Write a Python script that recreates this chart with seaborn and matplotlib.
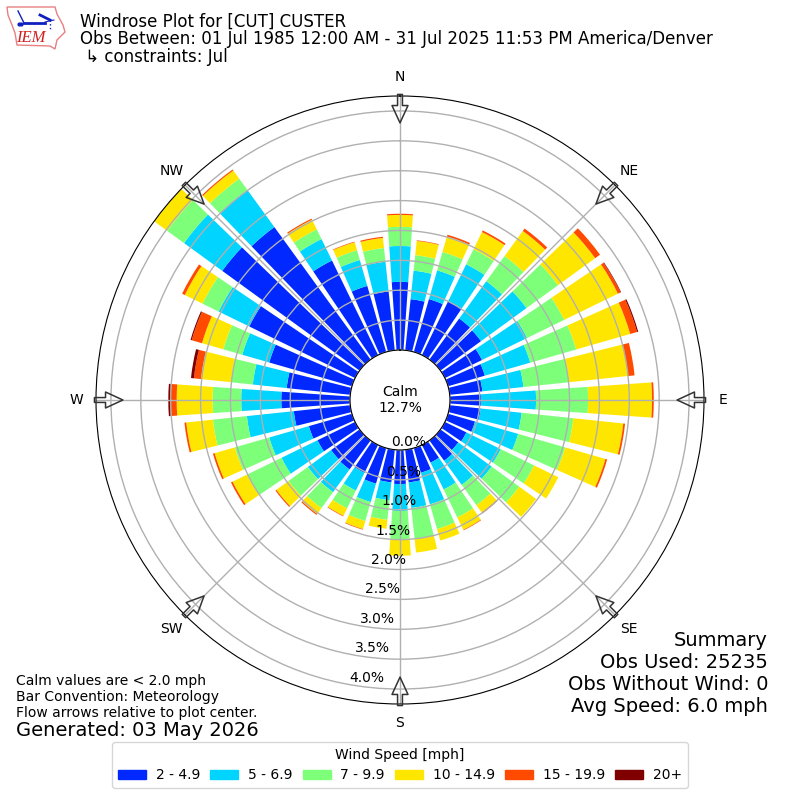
import numpy as np
import pandas as pd
import matplotlib
matplotlib.use("Agg")
import matplotlib.pyplot as plt
from matplotlib.patches import Patch, Polygon
import seaborn as sns

directions = list(range(0, 360, 10))
speed_labels = ["2 - 4.9", "5 - 6.9", "7 - 9.9", "10 - 14.9", "15 - 19.9", "20+"]
colors = ["#0028ff", "#00d4ff", "#7dff7a", "#ffe600", "#ff4a00", "#800000"]

s2_5 = [1.14, .86, .92, 1.00, .85, .84, .69, .64, .55, .52, .52, .47, .40, .37, .42, .33, .43, .55,
        .57, .55, .62, .52, .60, .59, .70, .75, .95, 1.15, 1.07, 1.44, 1.97, 2.84, 2.74, 1.76, 1.15, .99]
s5_7 = [.60, .48, .50, .69, .77, .94, .84, .79, .69, .92, .69, .75, .64, .69, .50, .50, .55, .43,
        .45, .30, .32, .33, .47, .48, .67, .69, .79, .67, .57, .47, .57, .79, .77, .40, .45, .50]
s7_10 = [.32, .26, .32, .28, .52, .65, .69, .80, .77, .87, .87, .82, .62, .57, .42, .52, .43, .52,
         .47, .33, .33, .33, .33, .40, .64, .60, .57, .48, .37, .33, .30, .35, .23, .18, .17, .23]
s10_15 = [.20, .24, .27, .32, .52, .77, 1.00, .94, .99, 1.07, .84, .70, .45, .35, .15, .23, .20, .23,
          .28, .15, .14, .14, .12, .25, .27, .35, .45, .60, .50, .37, .33, .27, .17, .18, .14, .17]
s15_20 = [.02, .01, .03, .03, .05, .10, .05, .12, .11, .03, .03, .03, 0, 0, .02, .01, 0, 0,
          0, 0, .01, .01, .02, .02, .03, .03, .03, .11, .12, .18, .05, 0, .02, .02, .01, .02]
s20p = [0, 0, 0, 0, 0, 0, .01, .02, 0, 0, 0, 0, 0, 0, 0, 0, 0, 0,
        0, 0, 0, 0, 0, 0, 0, 0, 0, .03, .05, .02, 0, 0, 0, 0, 0, 0]
series = [s2_5, s5_7, s7_10, s10_15, s15_20, s20p]

compass_angles = list(range(0, 360, 45))
compass_labels = ["N", "NE", "E", "SE", "S", "SW", "W", "NW"]
radial_ticks = [0.0, 0.5, 1.0, 1.5, 2.0, 2.5, 3.0, 3.5, 4.0]

df = pd.DataFrame({
    "theta": np.deg2rad(np.tile(directions, len(speed_labels))),
    "pct": np.concatenate(series),
    "speed": np.repeat(speed_labels, len(directions)),
})
palette = dict(zip(speed_labels, sns.color_palette(colors)))

fig = plt.figure(figsize=(8, 8), dpi=100)
ax = fig.add_axes([96 / 800, 96 / 800, 608 / 800, 608 / 800], projection="polar")
ax.set_theta_zero_location("N")
ax.set_theta_direction(-1)

sns.histplot(df, x="theta", weights="pct", hue="speed", hue_order=speed_labels[::-1],
             multiple="stack", binwidth=np.deg2rad(10), binrange=(np.deg2rad(-5), np.deg2rad(355)),
             shrink=0.8, palette=palette, alpha=1, linewidth=0, legend=False, ax=ax)

ax.set_xlabel("")
ax.set_ylabel("")
ax.set_xlim(0, 2 * np.pi)
ax.set_rorigin(-0.836)
ax.set_rmin(0)
ax.set_rmax(4.25)
ax.set_thetagrids(compass_angles, compass_labels, fontsize=10)
ax.set_rticks(radial_ticks)
ax.set_yticklabels([f"{v:.1f}%" for v in radial_ticks], fontsize=10)
ax.set_rlabel_position(190)
ax.tick_params(axis="x", pad=3.5)
ax.grid(True, color="#b0b0b0", linewidth=1)

for a in compass_angles:
    t = np.deg2rad(a)
    ax.annotate("", xy=(t, 3.8), xytext=(t, 4.276), annotation_clip=False,
                arrowprops=dict(facecolor="none", edgecolor="#333333", width=3.5,
                                headwidth=11.5, headlength=12.5, linewidth=1.1))

ax.text(0.5, 0.5, "Calm\n12.7%", transform=ax.transAxes, ha="center", va="center", fontsize=10)

fig.text(80 / 800, 1 - 13 / 800,
         "Windrose Plot for [CUT] CUSTER\n"
         "Obs Between: 01 Jul 1985 12:00 AM - 31 Jul 2025 11:53 PM America/Denver\n"
         " \u21b3 constraints: Jul", fontsize=12, va="top", ha="left", linespacing=0.95)
fig.text(768 / 800, 1 - 716 / 800,
         "Summary\nObs Used: 25235\nObs Without Wind: 0\nAvg Speed: 6.0 mph",
         fontsize=14, ha="right", va="bottom")
fig.text(16 / 800, 1 - 720 / 800,
         "Calm values are < 2.0 mph\nBar Convention: Meteorology\nFlow arrows relative to plot center.",
         fontsize=10, ha="left", va="bottom")
fig.text(16 / 800, 1 - 740 / 800, "Generated: 03 May 2026", fontsize=14, ha="left", va="bottom")

handles = [Patch(color=palette[s], label=s) for s in speed_labels]
fig.legend(handles=handles, title="Wind Speed [mph]", ncol=6, loc="lower center",
           bbox_to_anchor=(0.5, 12 / 800), borderaxespad=0, fontsize=10, title_fontsize=10,
           handlelength=2, handletextpad=0.7, columnspacing=0.75)

# Logo
logo = fig.add_axes([0, 1 - 80 / 800, 240 / 800, 80 / 800])
logo.set_xlim(0, 240)
logo.set_ylim(80, 0)
logo.axis("off")
logo.patch.set_alpha(0)
iowa = [(7, 7), (55, 7), (57, 14), (63, 25), (65, 32), (57, 40), (55, 49), (50, 46), (17, 45), (15, 33), (12, 25), (8, 15)]
logo.add_patch(Polygon(iowa, closed=True, fill=False, edgecolor="#e88080", linewidth=1))
logo.plot([24, 45], [23, 23], color="#1020c0", linewidth=2)
logo.plot([45, 54], [22, 20], color="#1020c0", linewidth=0.8)
logo.plot([18, 24], [11, 23], color="#1020c0", linewidth=1)
logo.plot([40, 50], [15, 20], color="#1020c0", linewidth=2)
logo.plot([50, 50], [20, 30], color="#1020c0", linewidth=1, linestyle=":")
logo.plot([19, 21], [24, 24], color="#1020c0", linestyle="none", marker=".", markersize=4)
logo.text(30.5, 38, "IEM", fontsize=12, color="#d02020", family="Liberation Serif", style="italic",
          ha="center", va="center")

fig.savefig("out.png", dpi=100)
